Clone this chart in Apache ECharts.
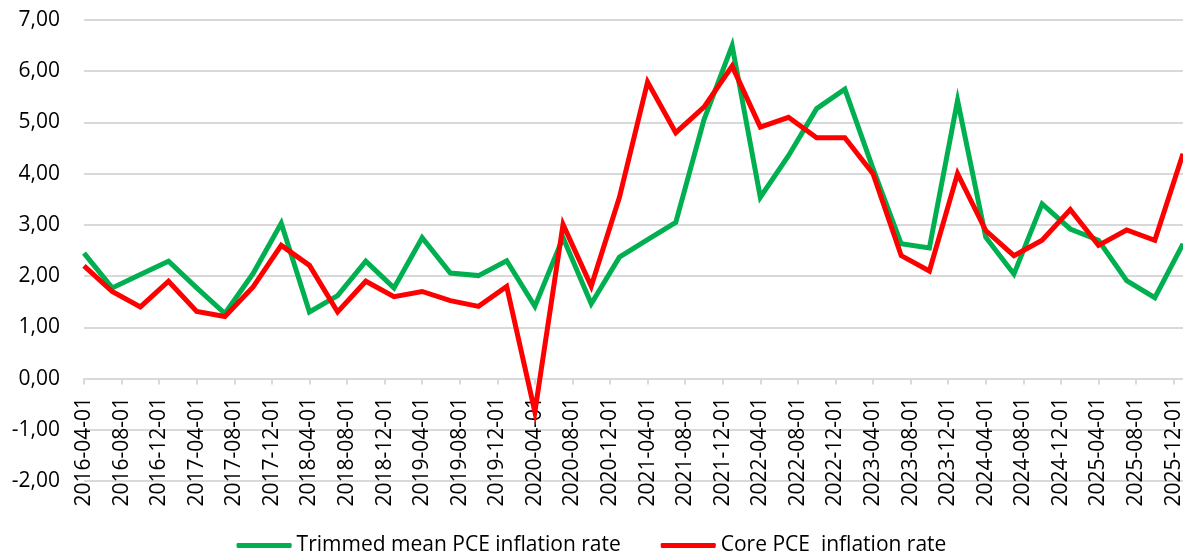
<!DOCTYPE html>
<html>
<head>
<meta charset="utf-8">
<script src="https://cdn.jsdelivr.net/npm/echarts@6/dist/echarts.min.js"></script>
<style>
html, body { margin: 0; padding: 0; background: #fff; }
#chart { width: 1183px; height: 556px; }
</style>
</head>
<body>
<div id="chart"></div>
<script>
// quarterly observations
var dates = ['2016-04-01','2016-07-01','2016-10-01','2017-01-01','2017-04-01','2017-07-01','2017-10-01','2018-01-01',
	'2018-04-01','2018-07-01','2018-10-01','2019-01-01','2019-04-01','2019-07-01','2019-10-01','2020-01-01',
	'2020-04-01','2020-07-01','2020-10-01','2021-01-01','2021-04-01','2021-07-01','2021-10-01','2022-01-01',
	'2022-04-01','2022-07-01','2022-10-01','2023-01-01','2023-04-01','2023-07-01','2023-10-01','2024-01-01',
	'2024-04-01','2024-07-01','2024-10-01','2025-01-01','2025-04-01','2025-07-01','2025-10-01','2026-01-01'];

var trimmedMean = [2.45, 1.77, 2.03, 2.29, 1.77, 1.27, 2.05, 3.03,
	1.30, 1.62, 2.29, 1.77, 2.75, 2.06, 2.01, 2.30,
	1.41, 2.75, 1.46, 2.37, 2.71, 3.05, 5.05, 6.50,
	3.54, 4.35, 5.27, 5.65, 4.10, 2.63, 2.55, 5.43,
	2.76, 2.04, 3.41, 2.92, 2.70, 1.91, 1.58, 2.63];

var corePce = [2.20, 1.70, 1.40, 1.90, 1.31, 1.21, 1.79, 2.60,
	2.21, 1.30, 1.90, 1.60, 1.70, 1.52, 1.41, 1.80,
	-0.65, 3.01, 1.80, 3.54, 5.79, 4.80, 5.30, 6.10,
	4.91, 5.10, 4.70, 4.70, 4.00, 2.40, 2.10, 4.00,
	2.89, 2.40, 2.70, 3.30, 2.60, 2.90, 2.70, 4.39];

// axis labels, one every 4 months
var tickLabels = ['2016-04-01','2016-08-01','2016-12-01','2017-04-01','2017-08-01','2017-12-01',
	'2018-04-01','2018-08-01','2018-12-01','2019-04-01','2019-08-01','2019-12-01',
	'2020-04-01','2020-08-01','2020-12-01','2021-04-01','2021-08-01','2021-12-01',
	'2022-04-01','2022-08-01','2022-12-01','2023-04-01','2023-08-01','2023-12-01',
	'2024-04-01','2024-08-01','2024-12-01','2025-04-01','2025-08-01','2025-12-01'];

var seriesNames = ['Trimmed mean PCE inflation rate', 'Core PCE  inflation rate'];

var fontFamily = '"Open Sans", "Noto Sans", sans-serif';
var gridColor = '#d9d9d9';

// months since 2016-04
function monthIndex(d){
	var p = d.split('-');
	return (parseInt(p[0], 10) - 2016) * 12 + (parseInt(p[1], 10) - 4);
}

function toPoints(vals){
	var out = [];
	for (var i = 0; i < dates.length; i++) {
		out.push([monthIndex(dates[i]), vals[i]]);
	}
	return out;
}

var myChart = echarts.init(document.getElementById('chart'));

var option = {
	animation: false,
	grid: {
		left: 84,
		right: 0,
		top: 20,
		bottom: 75,
		containLabel: false,
		outerBoundsMode: 'none'
	},
	legend: {
		bottom: -5,
		left: 'center',
		itemWidth: 55,
		itemHeight: 5,
		itemGap: 40,
		icon: 'roundRect',
		textStyle: { fontFamily: fontFamily, fontSize: 21, color: '#000' },
		data: seriesNames
	},
	xAxis: {
		type: 'value',
		min: 0,
		max: 117,
		interval: 4,
		axisLine: { onZero: true, lineStyle: { color: gridColor, width: 2 } },
		axisTick: { show: true, length: 6, lineStyle: { color: gridColor, width: 2 } },
		splitLine: { show: false },
		axisLabel: {
			rotate: 90,
			margin: -84,
			showMaxLabel: false,
			fontFamily: fontFamily,
			fontSize: 21,
			color: '#000',
			formatter: function(v){
				if (v % 4 !== 0) return '';
				return tickLabels[v / 4] || '';
			}
		}
	},
	yAxis: {
		type: 'value',
		min: -2,
		max: 7,
		interval: 1,
		axisLine: { show: false },
		axisTick: { show: false },
		splitLine: { lineStyle: { color: gridColor, width: 2 } },
		axisLabel: {
			margin: 24,
			fontFamily: fontFamily,
			fontSize: 21,
			color: '#000',
			formatter: function(v){
				return v.toFixed(2).replace('.', ',');
			}
		}
	},
	series: [
		{
			name: seriesNames[0],
			type: 'line',
			data: toPoints(trimmedMean),
			symbol: 'none',
			itemStyle: { color: '#00b050' },
			lineStyle: { color: '#00b050', width: 5, join: 'miter' }
		},
		{
			name: seriesNames[1],
			type: 'line',
			data: toPoints(corePce),
			symbol: 'none',
			itemStyle: { color: '#ff0000' },
			lineStyle: { color: '#ff0000', width: 5, join: 'miter' }
		}
	]
};
myChart.setOption(option);
</script>
</body>
</html>
